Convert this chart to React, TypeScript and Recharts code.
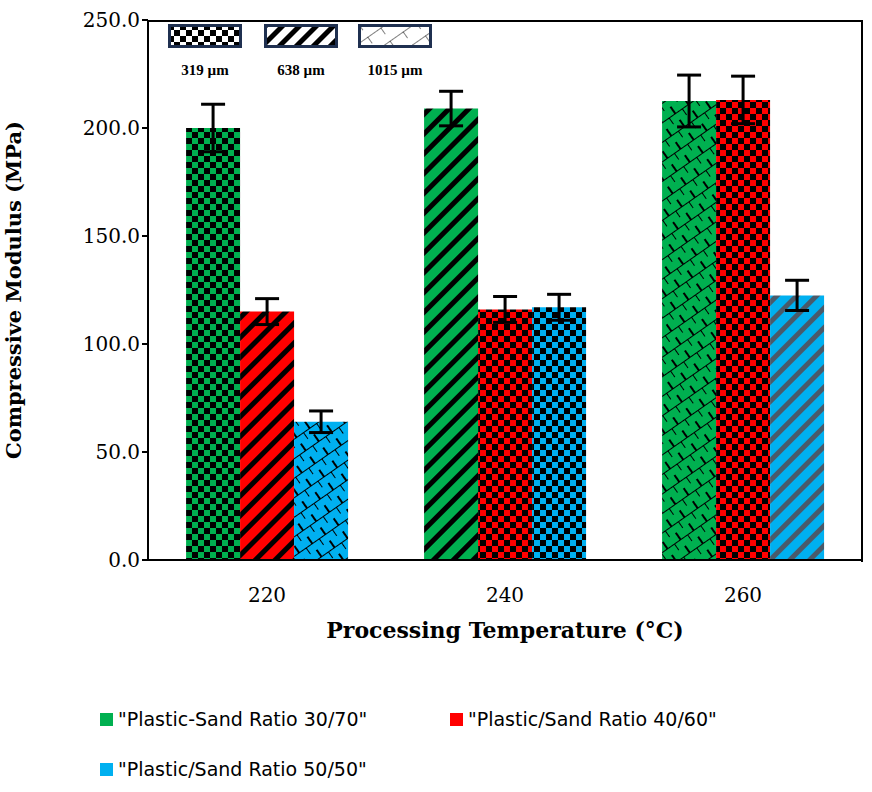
import { Bar, BarChart, Cell, ErrorBar, XAxis, YAxis } from "recharts";

const temps = ["220", "240", "260"];
const ratio3070 = [200, 209, 212.5];
const ratio4060 = [115, 116, 213];
const ratio5050 = [64, 117, 122.5];
const err3070 = [11, 8, 12];
const err4060 = [6, 6, 11];
const err5050 = [5, 6, 7];
// particle size per bar: c = 319 µm, s = 638 µm, h = 1015 µm
const size3070 = ["c", "s", "h"];
const size4060 = ["s", "c", "c"];
const size5050 = ["h", "c", "s"];
const yTicks = [0, 50, 100, 150, 200, 250];

const data = temps.map((t, i) => ({
  temp: t,
  g: ratio3070[i],
  r: ratio4060[i],
  b: ratio5050[i],
  gE: err3070[i],
  rE: err4060[i],
  bE: err5050[i],
}));

const colors: Record<string, string> = { g: "#00b050", r: "#ff0000", b: "#00b0f0" };

const Patterns = () => (
  <svg width="0" height="0" style={{ position: "absolute" }}>
    <defs>
      {Object.entries(colors).map(([k, c]) => (
        <g key={k}>
          <pattern id={`c-${k}`} width="12" height="12" patternUnits="userSpaceOnUse">
            <rect width="12" height="12" fill={c} />
            <rect width="6" height="6" fill="#000" />
            <rect x="6" y="6" width="6" height="6" fill="#000" />
          </pattern>
          <pattern id={`s-${k}`} width="14" height="14" patternUnits="userSpaceOnUse" patternTransform="rotate(45)">
            <rect width="14" height="14" fill={c} />
            <rect width="5" height="14" fill={k === "b" ? "#4a5a6a" : "#000"} />
          </pattern>
          <pattern id={`h-${k}`} width="16" height="16" patternUnits="userSpaceOnUse" patternTransform="rotate(-35)">
            <rect width="16" height="16" fill={c} />
            <line x1="0" y1="0" x2="16" y2="0" stroke="#000" strokeWidth="2" />
            <line x1="0" y1="0" x2="0" y2="8" stroke="#000" strokeWidth="2" />
            <line x1="8" y1="8" x2="8" y2="16" stroke="#000" strokeWidth="2" />
          </pattern>
        </g>
      ))}
      <pattern id="c-w" width="12" height="12" patternUnits="userSpaceOnUse">
        <rect width="12" height="12" fill="#fff" />
        <rect width="6" height="6" fill="#000" />
        <rect x="6" y="6" width="6" height="6" fill="#000" />
      </pattern>
      <pattern id="s-w" width="12" height="12" patternUnits="userSpaceOnUse" patternTransform="rotate(45)">
        <rect width="12" height="12" fill="#fff" />
        <rect width="5" height="12" fill="#000" />
      </pattern>
      <pattern id="h-w" width="16" height="16" patternUnits="userSpaceOnUse" patternTransform="rotate(-35)">
        <rect width="16" height="16" fill="#fff" />
        <line x1="0" y1="0" x2="16" y2="0" stroke="#000" strokeWidth="1" />
        <line x1="0" y1="0" x2="0" y2="8" stroke="#000" strokeWidth="1" />
      </pattern>
    </defs>
  </svg>
);

const sizeKeys = [
  { id: "c-w", label: "319 µm", left: 168 },
  { id: "s-w", label: "638 µm", left: 264 },
  { id: "h-w", label: "1015 µm", left: 358 },
];

const legendItems = [
  { color: colors.g, label: "\"Plastic-Sand Ratio 30/70\"", left: 100, top: 708 },
  { color: colors.r, label: "\"Plastic/Sand Ratio 40/60\"", left: 450, top: 708 },
  { color: colors.b, label: "\"Plastic/Sand Ratio 50/50\"", left: 100, top: 758 },
];

const tickFont = { fontFamily: "DejaVu Serif", fontSize: 20, fill: "#000" };

export default function App() {
  return (
    <div style={{ position: "absolute", left: 0, top: 0, width: 872, height: 792, background: "#fff" }}>
      <Patterns />
      <BarChart
        width={872}
        height={680}
        data={data}
        margin={{ top: 20, right: 10, left: 0, bottom: 0 }}
        barCategoryGap="16%"
        barGap={0}
      >
        <XAxis
          dataKey="temp"
          height={120}
          tick={tickFont}
          tickLine={false}
          axisLine={{ stroke: "#000", strokeWidth: 2 }}
          tickMargin={22}
          label={{ value: "Processing Temperature (°C)", position: "insideTop", offset: 62, style: { fontFamily: "DejaVu Serif", fontWeight: "bold", fontSize: 22, fill: "#000" } }}
        />
        <YAxis
          width={148}
          domain={[0, 250]}
          ticks={yTicks}
          tickFormatter={(v: number) => v.toFixed(1)}
          tick={tickFont}
          tickSize={6}
          tickLine={{ stroke: "#000", strokeWidth: 2 }}
          axisLine={{ stroke: "#000", strokeWidth: 2 }}
          label={{ value: "Compressive Modulus (MPa)", angle: -90, position: "insideLeft", offset: 14, style: { textAnchor: "middle", fontFamily: "DejaVu Serif", fontWeight: "bold", fontSize: 21, fill: "#000" } }}
        />
        <Bar dataKey="g" isAnimationActive={false}>
          {size3070.map((s, i) => <Cell key={i} fill={`url(#${s}-g)`} />)}
          <ErrorBar dataKey="gE" width={12} stroke="#000" strokeWidth={3} />
        </Bar>
        <Bar dataKey="r" isAnimationActive={false}>
          {size4060.map((s, i) => <Cell key={i} fill={`url(#${s}-r)`} />)}
          <ErrorBar dataKey="rE" width={12} stroke="#000" strokeWidth={3} />
        </Bar>
        <Bar dataKey="b" isAnimationActive={false}>
          {size5050.map((s, i) => <Cell key={i} fill={`url(#${s}-b)`} />)}
          <ErrorBar dataKey="bE" width={12} stroke="#000" strokeWidth={3} />
        </Bar>
      </BarChart>
      <div style={{ position: "absolute", left: 148, top: 20, width: 713, height: 540, borderTop: "2px solid #000", borderRight: "2px solid #000", pointerEvents: "none" }} />
      {sizeKeys.map((k) => (
        <div key={k.id} style={{ position: "absolute", left: k.left, top: 24 }}>
          <svg width="74" height="24" style={{ display: "block" }}>
            <rect x="1.5" y="1.5" width="71" height="21" fill={`url(#${k.id})`} stroke="#1f3050" strokeWidth="3" />
          </svg>
          <div style={{ marginTop: 14, textAlign: "center", fontFamily: "Liberation Serif", fontWeight: "bold", fontSize: 15 }}>{k.label}</div>
        </div>
      ))}
      {legendItems.map((l) => (
        <div key={l.label} style={{ position: "absolute", left: l.left, top: l.top, display: "flex", alignItems: "center", fontFamily: "DejaVu Sans", fontSize: 19 }}>
          <span style={{ width: 13, height: 13, background: l.color, marginRight: 5 }} />
          {l.label}
        </div>
      ))}
    </div>
  );
}
